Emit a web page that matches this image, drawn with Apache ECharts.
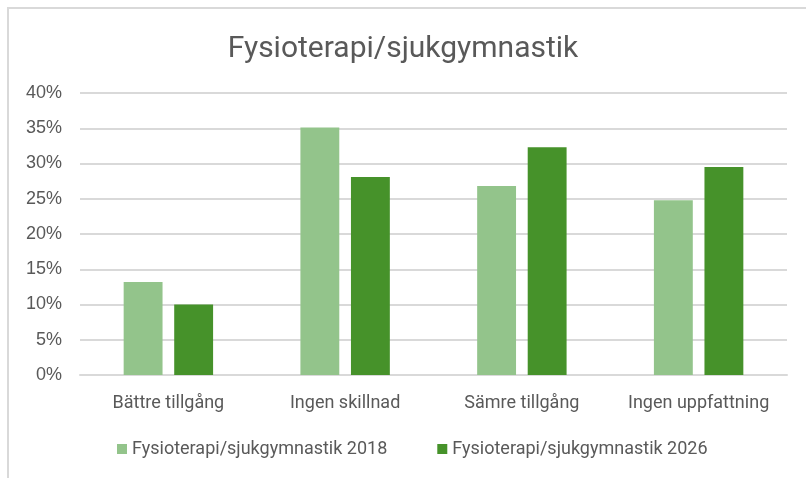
<!DOCTYPE html>
<html>
<head>
<meta charset="utf-8">
<script src="https://cdn.jsdelivr.net/npm/echarts@6/dist/echarts.min.js"></script>
<style>
  html, body { margin: 0; padding: 0; background: #fff; }
  #chart { width: 806px; height: 478px; }
</style>
</head>
<body>
<div id="chart"></div>
<script>
var categories = ['Bättre tillgång', 'Ingen skillnad', 'Sämre tillgång', 'Ingen uppfattning'];
var values2018 = [13.2, 35.1, 26.8, 24.8];
var values2026 = [10.0, 28.1, 32.3, 29.5];
var seriesNames = ['Fysioterapi/sjukgymnastik 2018', 'Fysioterapi/sjukgymnastik 2026'];

var textFont = 'Roboto, "Noto Sans", sans-serif';
var textColor = '#595959';

var chart = echarts.init(document.getElementById('chart'));
chart.setOption({
  animation: false,
  title: {
    text: 'Fysioterapi/sjukgymnastik',
    left: 'center',
    top: 29,
    textStyle: { fontFamily: textFont, fontSize: 30, fontWeight: 'normal', color: textColor }
  },
  graphic: [
    { type: 'line', shape: { x1: 8, y1: 8, x2: 8, y2: 478 }, style: { stroke: '#d9d9d9', lineWidth: 2 } },
    { type: 'line', shape: { x1: 7, y1: 8, x2: 806, y2: 8 }, style: { stroke: '#d9d9d9', lineWidth: 2 } }
  ],
  legend: {
    bottom: 15,
    left: 112,
    itemWidth: 10,
    itemHeight: 10,
    itemGap: 50,
    icon: 'rect',
    textStyle: { fontFamily: textFont, fontSize: 18, color: textColor }
  },
  grid: { left: 80, right: 19, top: 93, bottom: 103 },
  xAxis: {
    type: 'category',
    data: categories,
    axisTick: { show: false },
    axisLine: { lineStyle: { color: '#d9d9d9', width: 2 } },
    axisLabel: { interval: 0, margin: 19, fontFamily: textFont, fontSize: 18, color: textColor }
  },
  yAxis: {
    type: 'value',
    min: 0,
    max: 40,
    interval: 5,
    axisLabel: {
      formatter: '{value}%',
      margin: 18,
      fontFamily: '"Liberation Sans", Arial, sans-serif',
      fontSize: 18,
      color: textColor
    },
    splitLine: { lineStyle: { color: '#d9d9d9', width: 2 } }
  },
  series: [
    {
      name: seriesNames[0],
      type: 'bar',
      data: values2018,
      barWidth: '22%',
      barGap: '30%',
      itemStyle: { color: '#93c48b' }
    },
    {
      name: seriesNames[1],
      type: 'bar',
      data: values2026,
      barWidth: '22%',
      itemStyle: { color: '#46922a' }
    }
  ]
});
</script>
</body>
</html>
